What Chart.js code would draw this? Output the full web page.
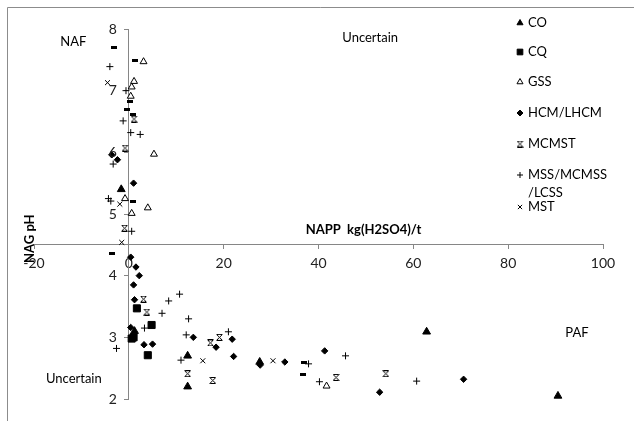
<!DOCTYPE html>
<html><head><meta charset="utf-8">
<script src="https://cdn.jsdelivr.net/npm/chart.js@4/dist/chart.umd.min.js"></script>
<style>html,body{margin:0;padding:0;background:#fff}#wrap{width:634px;height:421px;position:relative}</style>
</head><body><div id="wrap"><canvas id="c" width="634" height="421"></canvas></div>
<script>
// ---- data (NAPP kg(H2SO4)/t, NAG pH) ----
const CO = [[-1.6,5.40],[1.2,3.10],[12.4,2.70],[12.4,2.20],[27.6,2.60],[62.8,3.09],[90.5,2.05]];
const CQ = [[1.7,3.47],[4.8,3.20],[1.0,3.00],[0.6,2.98],[4.0,2.71]];
const GSS = [[3.1,7.47],[1.1,7.15],[0.6,7.06],[0.4,6.91],[5.3,5.97],[-0.8,5.25],[4.0,5.10],[0.6,5.01],[41.7,2.21]];
const HCM = [[-3.6,5.96],[-2.4,5.88],[1.0,5.50],[0.4,4.30],[1.5,4.14],[2.2,4.00],[1.0,3.85],[1.2,3.61],[0.4,3.16],[3.2,2.88],[5.0,2.89],[13.6,3.00],[18.4,2.84],[21.8,2.97],[22.1,2.69],[27.7,2.55],[32.9,2.60],[41.3,2.78],[52.9,2.11],[70.6,2.32]];
const MCMST = [[1.1,6.54],[-0.8,6.07],[-0.9,4.77],[3.1,3.62],[3.8,3.41],[12.4,2.41],[17.2,2.91],[19.1,3.00],[17.7,2.30],[43.7,2.35],[54.2,2.41]];
const MSS = [[-4.0,7.39],[-0.6,7.00],[-1.2,6.51],[0.4,6.32],[2.4,6.29],[-3.3,5.81],[-4.3,5.25],[-3.8,5.21],[0.6,4.72],[8.4,3.59],[10.7,3.70],[7.0,3.39],[12.6,3.30],[3.3,3.15],[-2.6,2.82],[12.1,3.04],[11.0,2.63],[21.0,3.09],[37.9,2.57],[40.2,2.28],[45.7,2.70],[60.7,2.29]];
const MST = [[-4.5,7.13],[-1.9,5.16],[-1.5,4.54],[15.6,2.62],[30.4,2.62]];
const OTHER = [[-3.1,7.70],[1.2,7.49],[0.3,6.82],[-0.3,6.70],[0.8,6.61],[0.8,5.21],[-3.6,4.36],[36.9,2.60],[36.8,2.39]];
const xTicks = [-20,0,20,40,60,80,100];
const yTicks = [2,3,4,5,6,7,8];
const xTitle = 'NAPP  kg(H2SO4)/t';
const yTitle = 'NAG pH';
const legendLabels = [['CO'],['CQ'],['GSS'],['HCM/LHCM'],['MCMST'],['MSS/MCMSS','/LCSS'],['MST']];
const zoneLabels = [{t:'NAF',x:-11.7,y:7.79},{t:'Uncertain',x:50.9,y:7.86},{t:'PAF',x:94.5,y:3.08},{t:'Uncertain',x:-11.6,y:2.32}];

const FONT = 'Lato, "Open Sans", sans-serif';
function mk(w,h,draw){const c=document.createElement('canvas');c.width=w;c.height=h;draw(c.getContext('2d'));return c;}
const dashImg = mk(6,3,g=>{g.fillStyle='#000';g.fillRect(0,0,6,3);});
const hourImg = mk(7,7,g=>{g.strokeStyle='#000';g.lineWidth=1;g.beginPath();
  g.moveTo(1,1);g.lineTo(6,6);g.moveTo(6,1);g.lineTo(1,6);g.moveTo(0.5,0.5);g.lineTo(6.5,0.5);g.moveTo(0.5,6.5);g.lineTo(6.5,6.5);g.stroke();});

const toPts = a => a.map(p=>({x:p[0],y:p[1]}));
const ds = [
  {label:'CO', data:toPts(CO), pointStyle:'triangle', radius:4.5, backgroundColor:'#000', borderColor:'#000', borderWidth:1},
  {label:'CQ', data:toPts(CQ), pointStyle:'rect', radius:5, backgroundColor:'#000', borderColor:'#000', borderWidth:1},
  {label:'GSS', data:toPts(GSS), pointStyle:'triangle', radius:4, backgroundColor:'#fff', borderColor:'#000', borderWidth:1},
  {label:'HCM/LHCM', data:toPts(HCM), pointStyle:'rectRot', radius:3.2, backgroundColor:'#000', borderColor:'#000', borderWidth:1},
  {label:'MCMST', data:toPts(MCMST), pointStyle:hourImg, radius:4, backgroundColor:'#000', borderColor:'#000', borderWidth:1},
  {label:'MSS/MCMSS/LCSS', data:toPts(MSS), pointStyle:'cross', radius:3.5, backgroundColor:'#000', borderColor:'#000', borderWidth:1},
  {label:'MST', data:toPts(MST), pointStyle:'crossRot', radius:3.5, backgroundColor:'#000', borderColor:'#000', borderWidth:1},
  {label:'', data:toPts(OTHER), pointStyle:dashImg, radius:4, backgroundColor:'#000', borderColor:'#000', borderWidth:1}
];
ds.forEach(d=>{d.pointRadius=d.radius;d.pointHoverRadius=d.radius;});

const extras = {
  id:'extras',
  beforeDraw(chart){
    const ctx=chart.ctx; ctx.save();
    ctx.fillStyle='#fff'; ctx.fillRect(0,0,chart.width,chart.height);
    ctx.strokeStyle='#8c8c8c'; ctx.lineWidth=1;
    ctx.beginPath(); ctx.moveTo(7.5,chart.height); ctx.lineTo(7.5,7.5); ctx.lineTo(chart.width,7.5); ctx.stroke();
    ctx.restore();
  },
  afterDraw(chart){
    const ctx=chart.ctx, xs=chart.scales.x, ys=chart.scales.y;
    ctx.save();
    ctx.fillStyle='#000'; ctx.textBaseline='middle'; ctx.textAlign='center';
    ctx.font='13px '+FONT;
    zoneLabels.forEach(z=>ctx.fillText(z.t, xs.getPixelForValue(z.x), ys.getPixelForValue(z.y)));
    // y tick labels, right-aligned left of the y axis
    ctx.fillStyle='#222'; ctx.textAlign='right'; ctx.font='14px '+FONT;
    const ax = xs.getPixelForValue(0);
    ys.ticks.forEach(t=>ctx.fillText(String(t.value), ax-12, ys.getPixelForValue(t.value)));
    ctx.fillStyle='#000'; ctx.textAlign='center';
    ctx.font='bold 13px '+FONT;
    ctx.fillText(xTitle, xs.getPixelForValue(49.5), ys.getPixelForValue(4.74));
    ctx.save(); ctx.translate(chart.chartArea.left-4, ys.getPixelForValue(4.6)); ctx.rotate(-Math.PI/2);
    ctx.fillText(yTitle,0,0); ctx.restore();
    // legend
    const ly=[23,52,82,113,144,175,207];
    ctx.font='13px '+FONT; ctx.textAlign='left';
    legendLabels.forEach((lines,i)=>{
      const d=chart.data.datasets[i];
      ctx.fillStyle=d.backgroundColor; ctx.strokeStyle=d.borderColor; ctx.lineWidth=1;
      const st=d.pointStyle;
      Chart.helpers.drawPoint(ctx,{pointStyle:st,radius:st==='rect'?4:(st==='triangle'?3.5:3),rotation:0,borderWidth:1},520,ly[i]);
      ctx.fillStyle='#000';
      lines.forEach((t,k)=>ctx.fillText(t,528,ly[i]+k*18));
    });
    ctx.restore();
  }
};

const axisColor='#868686';
new Chart(document.getElementById('c'),{
  type:'scatter',
  data:{datasets:ds},
  options:{
    responsive:false, animation:false, devicePixelRatio:1,
    layout:{padding:{left:34,top:29,right:31,bottom:22}},
    plugins:{legend:{display:false},tooltip:{enabled:false}},
    scales:{
      x:{type:'linear',min:-20,max:100,position:{y:4.5},
        afterFit:s=>{s.height=0;},
        afterBuildTicks:s=>{s.ticks=xTicks.map(v=>({value:v}));},
        ticks:{color:'#222',font:{family:FONT,size:14},padding:6,maxRotation:0},
        grid:{drawOnChartArea:false,tickLength:4,color:axisColor},
        border:{display:true,color:axisColor,width:1}},
      y:{type:'linear',min:2,max:8,position:{x:0},
        afterFit:s=>{s.width=0;},
        afterBuildTicks:s=>{s.ticks=yTicks.map(v=>({value:v}));},
        ticks:{display:false},
        grid:{drawOnChartArea:false,tickLength:4,color:axisColor},
        border:{display:true,color:axisColor,width:1}}
    }
  },
  plugins:[extras]
});
</script></body></html>
